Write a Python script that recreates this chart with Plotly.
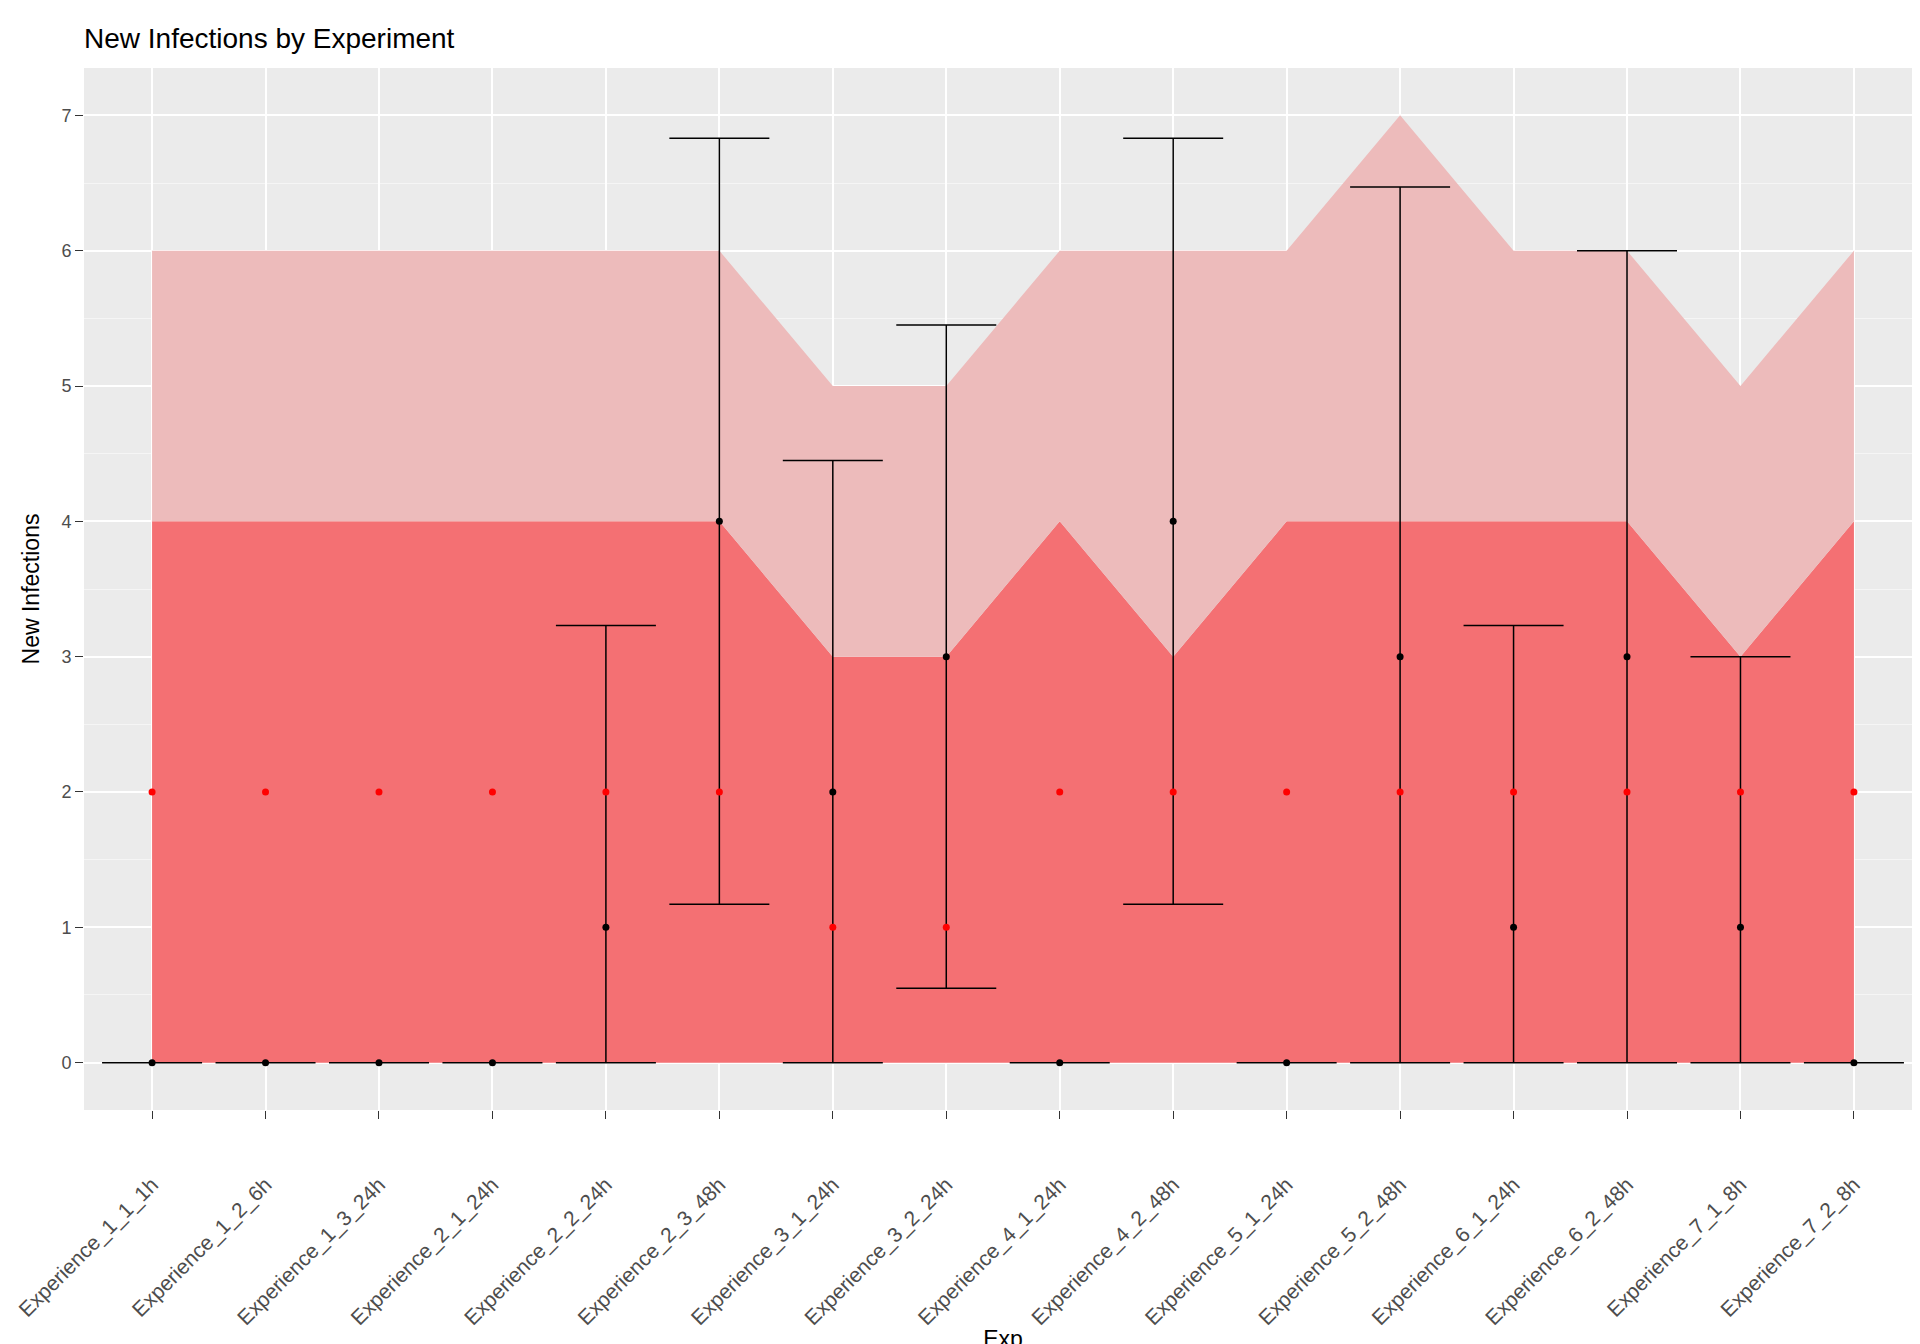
import plotly.graph_objects as go

exps = ['Experience_1_1_1h', 'Experience_1_2_6h', 'Experience_1_3_24h', 'Experience_2_1_24h',
        'Experience_2_2_24h', 'Experience_2_3_48h', 'Experience_3_1_24h', 'Experience_3_2_24h',
        'Experience_4_1_24h', 'Experience_4_2_48h', 'Experience_5_1_24h', 'Experience_5_2_48h',
        'Experience_6_1_24h', 'Experience_6_2_48h', 'Experience_7_1_8h', 'Experience_7_2_8h']
band_low = [4, 4, 4, 4, 4, 4, 3, 3, 4, 3, 4, 4, 4, 4, 3, 4]
band_high = [6, 6, 6, 6, 6, 6, 5, 5, 6, 6, 6, 7, 6, 6, 5, 6]
expected = [2, 2, 2, 2, 2, 2, 1, 1, 2, 2, 2, 2, 2, 2, 2, 2]
observed = [0, 0, 0, 0, 1, 4, 2, 3, 0, 4, 0, 3, 1, 3, 1, 0]
err_lo = [0, 0, 0, 0, 0, 1.17, 0, 0.55, 0, 1.17, 0, 0, 0, 0, 0, 0]
err_hi = [0, 0, 0, 0, 3.23, 6.83, 4.45, 5.45, 0, 6.83, 0, 6.47, 3.23, 6, 3, 0]

fig = go.Figure()
fig.add_trace(go.Scatter(x=exps, y=[0] * len(exps), mode='lines', line=dict(width=0), showlegend=False))
fig.add_trace(go.Scatter(x=exps, y=band_low, mode='lines', line=dict(width=0), fill='tonexty',
                         fillcolor='#F47073', showlegend=False))
fig.add_trace(go.Scatter(x=exps, y=band_high, mode='lines', line=dict(width=0), fill='tonexty',
                         fillcolor='#EDBBBB', showlegend=False))
fig.add_trace(go.Scatter(
    x=exps, y=observed, mode='markers', marker=dict(color='black', size=7),
    error_y=dict(type='data', symmetric=False,
                 array=[h - o for h, o in zip(err_hi, observed)],
                 arrayminus=[o - l for o, l in zip(observed, err_lo)],
                 color='black', thickness=1.5, width=50),
    showlegend=False))
fig.add_trace(go.Scatter(x=exps, y=expected, mode='markers', marker=dict(color='red', size=7),
                         showlegend=False))

fig.update_layout(
    width=1920, height=1344, plot_bgcolor='#EBEBEB', paper_bgcolor='white',
    title=dict(text='New Infections by Experiment', x=0.04, xref='paper', y=0.985,
               font=dict(size=28, color='black')),
    font=dict(family='Liberation Sans, Arial', size=18, color='#4D4D4D'),
    margin=dict(l=76, r=6, t=60, b=236),
)
fig.update_layout(title_x=0.0, title_xanchor='left', title_xref='paper')
fig.update_xaxes(title=dict(text='Exp', font=dict(size=23, color='black'), standoff=0),
                 range=[-0.6, 15.6], tickangle=-45, gridcolor='white', gridwidth=2,
                 tickfont=dict(size=21), ticklabelstandoff=45,
                 ticks='outside', ticklen=8, tickcolor='#333333', showline=False, zeroline=False)
fig.update_yaxes(title=dict(text='New Infections', font=dict(size=23, color='black')),
                 range=[-0.35, 7.35], dtick=1, gridcolor='white', gridwidth=2,
                 ticks='outside', ticklen=8, tickcolor='#333333', zeroline=False,
                 minor=dict(dtick=0.5, showgrid=True, gridcolor='#F5F5F5', gridwidth=1))
fig.write_html('out.html')
